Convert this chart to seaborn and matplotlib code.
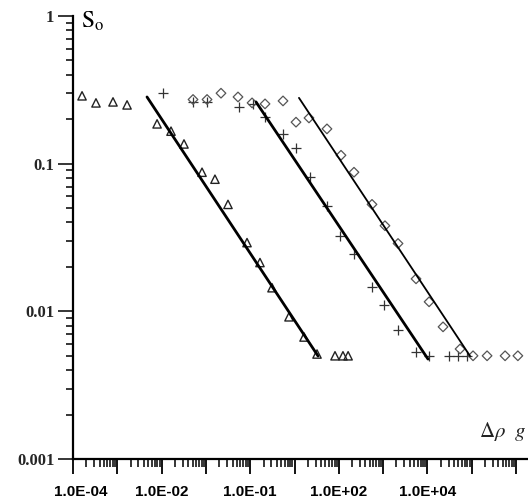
import numpy as np
import pandas as pd
import matplotlib
matplotlib.use("Agg")
import matplotlib.pyplot as plt
from matplotlib.ticker import FixedLocator, FixedFormatter, LogLocator, NullFormatter
from matplotlib.transforms import ScaledTranslation
import seaborn as sns

# ---- data ----
tri_x = [1.6e-4, 3.3e-4, 8.0e-4, 1.66e-3, 7.9e-3, 0.0163, 0.032, 0.0817, 0.16, 0.315,
         0.847, 1.66, 3.1, 7.5, 16.4, 32.2, 82, 124, 162]
tri_y = [0.288, 0.258, 0.262, 0.25, 0.186, 0.166, 0.136, 0.0875, 0.0785, 0.053,
         0.0292, 0.0214, 0.01445, 0.00918, 0.0067, 0.00514, 0.005, 0.005, 0.005]

plus_x = [0.0108, 0.0512, 0.106, 0.558, 1.16, 2.16, 5.5, 10.8, 22.4, 54,
          106, 220, 561, 1050, 2170, 5530, 10900, 30800, 49000, 78000]
plus_y = [0.302, 0.262, 0.262, 0.242, 0.254, 0.207, 0.159, 0.127, 0.081, 0.052,
          0.0326, 0.0246, 0.0147, 0.0111, 0.00748, 0.0053, 0.005, 0.005, 0.005, 0.005]

dia_x = [0.0512, 0.106, 0.219, 0.53, 1.1, 2.16, 5.5, 10.8, 21.2, 54, 112, 220, 561,
         1100, 2170, 5530, 10900, 22500, 54500, 107000, 222000, 566000, 1.1e6]
dia_y = [0.272, 0.272, 0.30, 0.283, 0.258, 0.254, 0.266, 0.191, 0.204, 0.172, 0.114,
         0.0875, 0.053, 0.038, 0.0288, 0.0166, 0.0116, 0.00785, 0.00556, 0.005, 0.005,
         0.005, 0.005]

fit1_x = [4.68e-3, 34.0]
fit1_y = [0.283, 0.00498]
fit2_x = [1.35, 10300.0]
fit2_y = [0.262, 0.00475]
fit3_x = [12.6, 91600.0]
fit3_y = [0.279, 0.00498]

xtick_vals = [1e-4, 1e-2, 1e0, 1e2, 1e4]
xtick_labels = ["1.0E-04", "1.0E-02", "1.0E-01", "1.0E+02", "1.0E+04"]
ytick_vals = [1e-3, 1e-2, 1e-1, 1e0]
ytick_labels = ["0.001", "0.01", "0.1", "1"]

# ---- style ----
sns.set_style("ticks")
plt.rcParams["font.family"] = ["Liberation Serif", "DejaVu Serif"]
plt.rcParams["mathtext.fontset"] = "stix"

fig = plt.figure(figsize=(5.28, 5.04), dpi=100)
ax = fig.add_axes([73 / 528, 1 - 459 / 504, 1 - 73 / 528, (459 - 16) / 504])

tri = pd.DataFrame({"x": tri_x, "y": tri_y})
plus = pd.DataFrame({"x": plus_x, "y": plus_y})
dia = pd.DataFrame({"x": dia_x, "y": dia_y})

sns.scatterplot(data=tri, x="x", y="y", ax=ax, marker="^", s=36,
                facecolor="none", edgecolor="#222222", linewidth=1.0, zorder=3)
sns.scatterplot(data=plus, x="x", y="y", ax=ax, marker="+", s=58,
                color="#333333", linewidth=0.9, zorder=3)
sns.scatterplot(data=dia, x="x", y="y", ax=ax, marker="D", s=24,
                facecolor="none", edgecolor="#555555", linewidth=0.9, zorder=3)

for fx, fy, lw in [(fit1_x, fit1_y, 2.0), (fit2_x, fit2_y, 2.0), (fit3_x, fit3_y, 1.3)]:
    sns.lineplot(x=fx, y=fy, ax=ax, color="black", linewidth=lw, estimator=None,
                 sort=False, zorder=4)

ax.set_xscale("log")
ax.set_yscale("log")
ax.set_xlim(1e-4, 10 ** 6.27)
ax.set_ylim(1e-3, 1)

for s in ["top", "right"]:
    ax.spines[s].set_visible(False)
for s in ["left", "bottom"]:
    ax.spines[s].set_linewidth(1.6)
    ax.spines[s].set_color("black")

xdec = [10.0 ** k for k in range(-4, 7)]
xlab_all = []
for v in xdec:
    if v in xtick_vals:
        xlab_all.append(xtick_labels[xtick_vals.index(v)])
    else:
        xlab_all.append("")
ax.xaxis.set_major_locator(FixedLocator(xdec))
ax.xaxis.set_major_formatter(FixedFormatter(xlab_all))
ax.xaxis.set_minor_locator(LogLocator(base=10, subs=np.arange(2, 10), numticks=100))
ax.xaxis.set_minor_formatter(NullFormatter())

ax.yaxis.set_major_locator(FixedLocator(ytick_vals))
ax.yaxis.set_major_formatter(FixedFormatter(ytick_labels))
ax.yaxis.set_minor_locator(LogLocator(base=10, subs=np.arange(2, 10), numticks=100))
ax.yaxis.set_minor_formatter(NullFormatter())

ax.tick_params(axis="x", which="major", direction="out", length=10.5, width=1.3, pad=8,
               colors="black")
ax.tick_params(axis="x", which="minor", direction="out", length=5.5, width=1.3)
ax.tick_params(axis="y", which="major", direction="out", length=10.5, width=1.3, pad=3)
ax.tick_params(axis="y", which="minor", direction="out", length=5.0, width=1.3)

ax.set_xlabel("")
ax.set_ylabel("")

fig.canvas.draw()
xt = ax.get_xticklabels()
for i, lab in enumerate(xt):
    lab.set_fontfamily(["Liberation Sans", "DejaVu Sans"])
    lab.set_fontweight("bold")
    lab.set_fontsize(11)
# first label sits a little right of the axis origin in the reference
first_tick = ax.xaxis.get_major_ticks()[0]
first_tick.label1.set_transform(first_tick.label1.get_transform()
                                + ScaledTranslation(8 / 100, 0, fig.dpi_scale_trans))
for lab in ax.get_yticklabels():
    lab.set_fontfamily(["Liberation Serif", "DejaVu Serif"])
    lab.set_fontweight("bold")
    lab.set_fontsize(12)

fig.text(81 / 528, 1 - 21 / 504, r"$\mathrm{S}_{\mathrm{o}}$", fontsize=17,
         ha="left", va="center", color="black")
fig.text(526 / 528, 1 - 443 / 504, r"$\Delta\rho\ \ g$", fontsize=15,
         ha="right", va="bottom", color="#222222")

fig.savefig("out.png", dpi=100)
